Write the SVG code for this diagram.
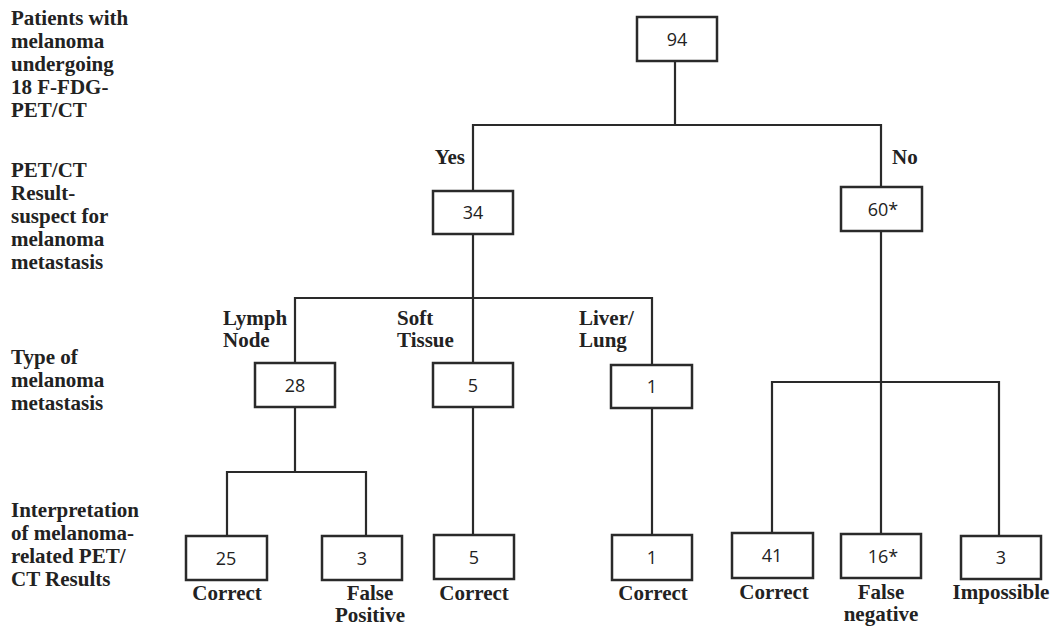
<svg xmlns="http://www.w3.org/2000/svg" width="1060" height="628" viewBox="0 0 1060 628">
<style>
.lbl{font-family:"Liberation Serif","Times New Roman",serif;font-weight:bold;font-size:21px;fill:#222}
.num{font-family:"Open Sans","Liberation Sans",sans-serif;font-size:18px;fill:#222;text-anchor:middle}
.box{fill:#fff;stroke:#2a2a2a;stroke-width:2.5}
.con{fill:none;stroke:#2a2a2a;stroke-width:2.2}
.mid{text-anchor:middle}
</style>
<rect width="1060" height="628" fill="#fff"/>
<g id="row-labels" class="lbl">
<text x="11" y="25">Patients with</text>
<text x="11" y="48">melanoma</text>
<text x="11" y="71">undergoing</text>
<text x="11" y="94">18 F-FDG-</text>
<text x="11" y="117">PET/CT</text>
<text x="11" y="177">PET/CT</text>
<text x="11" y="200">Result-</text>
<text x="11" y="223">suspect for</text>
<text x="11" y="246">melanoma</text>
<text x="11" y="269">metastasis</text>
<text x="11" y="364">Type of</text>
<text x="11" y="387">melanoma</text>
<text x="11" y="410">metastasis</text>
<text x="11" y="517">Interpretation</text>
<text x="11" y="540">of melanoma-</text>
<text x="11" y="563">related  PET/</text>
<text x="11" y="586">CT Results</text>
</g>
<g id="connectors" class="con">
<path d="M675,61V125"/>
<path d="M473,191V125H881V187"/>
<path d="M473,234V363"/>
<path d="M295,363V298H652V365"/>
<path d="M295,407V472"/>
<path d="M227,536V472H366V536"/>
<path d="M473,407V535"/>
<path d="M652,408V535"/>
<path d="M881,231V534"/>
<path d="M772,533V382H999V536"/>
</g>
<g id="edge-labels" class="lbl">
<text x="465" y="164" text-anchor="end">Yes</text>
<text x="892" y="164">No</text>
<text x="223" y="325">Lymph</text>
<text x="223" y="347">Node</text>
<text x="397" y="325">Soft</text>
<text x="397" y="347">Tissue</text>
<text x="579" y="325">Liver/</text>
<text x="579" y="347">Lung</text>
</g>
<g id="n94"><rect class="box" x="637" y="17" width="80" height="44"/><text class="num" x="677" y="46">94</text></g>
<g id="n34"><rect class="box" x="433" y="191" width="80" height="43"/><text class="num" x="473" y="219">34</text></g>
<g id="n60"><rect class="box" x="841" y="187" width="81" height="44"/><text class="num" x="883" y="216">60*</text></g>
<g id="n28"><rect class="box" x="255" y="363" width="80" height="44"/><text class="num" x="295" y="392">28</text></g>
<g id="n5a"><rect class="box" x="433" y="363" width="80" height="44"/><text class="num" x="473" y="392">5</text></g>
<g id="n1a"><rect class="box" x="611" y="365" width="81" height="43"/><text class="num" x="652" y="393">1</text></g>
<g id="n25"><rect class="box" x="186" y="536" width="81" height="44"/><text class="num" x="226" y="565">25</text><text class="lbl mid" x="227" y="600">Correct</text></g>
<g id="n3a"><rect class="box" x="322" y="536" width="80" height="44"/><text class="num" x="362" y="565">3</text><text class="lbl mid" x="370" y="600">False</text><text class="lbl mid" x="370" y="622">Positive</text></g>
<g id="n5b"><rect class="box" x="434" y="535" width="80" height="44"/><text class="num" x="474" y="564">5</text><text class="lbl mid" x="474" y="600">Correct</text></g>
<g id="n1b"><rect class="box" x="612" y="535" width="80" height="45"/><text class="num" x="652" y="564">1</text><text class="lbl mid" x="653" y="600">Correct</text></g>
<g id="n41"><rect class="box" x="732" y="533" width="81" height="45"/><text class="num" x="772" y="562">41</text><text class="lbl mid" x="774" y="599">Correct</text></g>
<g id="n16"><rect class="box" x="841" y="534" width="80" height="44"/><text class="num" x="883" y="563">16*</text><text class="lbl mid" x="881" y="599">False</text><text class="lbl mid" x="881" y="621">negative</text></g>
<g id="n3b"><rect class="box" x="961" y="536" width="80" height="43"/><text class="num" x="1001" y="564">3</text><text class="lbl mid" x="1001" y="599">Impossible</text></g>
</svg>
